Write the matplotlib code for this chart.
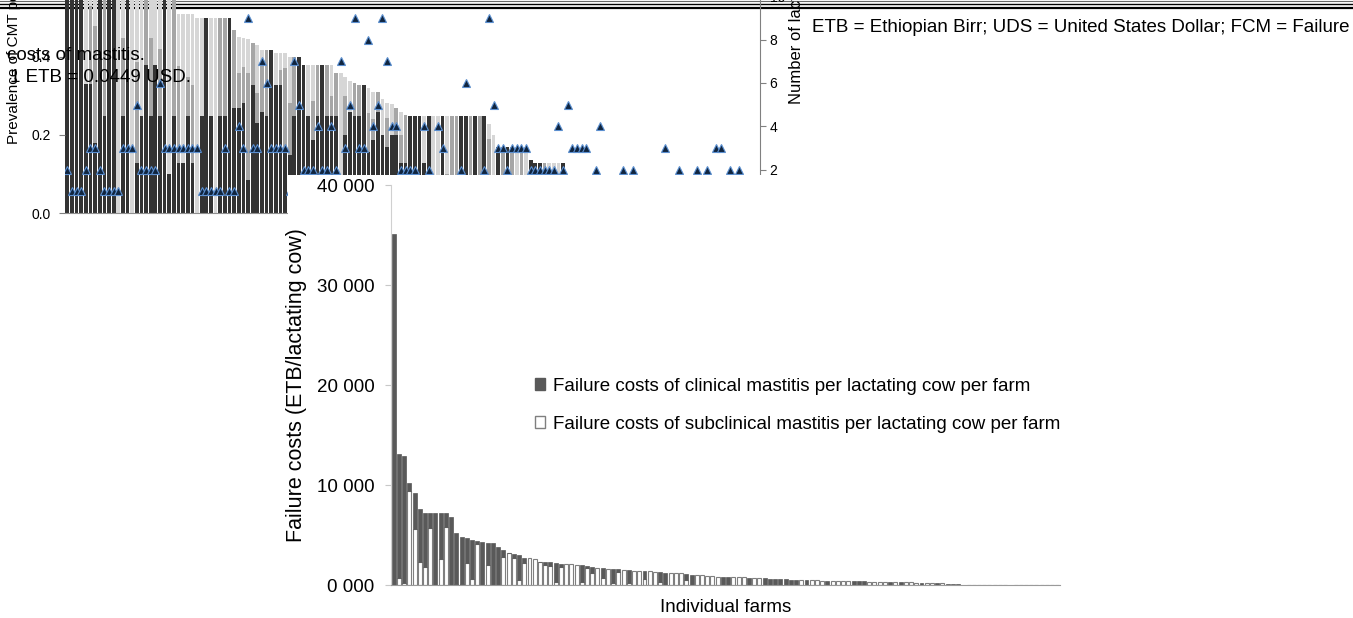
import matplotlib
matplotlib.use('Agg')
import matplotlib.pyplot as plt
from matplotlib.patches import Rectangle, Patch
from matplotlib.lines import Line2D

plt.rcParams['font.family'] = ['Liberation Sans', 'DejaVu Sans']

# --- Data ---

# upper chart: prevalence of CMT per farm, split in three shades (farms 1..109, rest are zero)
prev_dark = [1.0, 1.0, 1.0, .917, .33, .33, .18, .833, .25, .75, .75, 0, .25, .7, 0, .128, .25, .38, .25, .38,
             .25, .583, .1, .25, .128, .128, .25, .128, 0, .25, .5, .25, 0, .25, .25, .5, .268, .268, .281, .085,
             .328, .23, .26, .25, .418, .328, .328, .157, .149, .25, .399, .379, .25, .187, .25, .379, .25, .25, .25, 0,
             .2, .26, .25, .25, .328, .157, .187, .26, .2, .17, .2, .2, .127, .127, .25, .25, .25, .128, .25, 0,
             0, .25, 0, 0, 0, .25, .25, 0, .25, 0, .25, 0, 0, .168, 0, .168, 0, 0, 0, 0,
             .136, .127, .127, 0, 0, 0, 0, .127, 0]
prev_mid = [0, 0, 0, 0, 0, .2, .3, 0, .55, 0, 0, 0, .2, 0, 0, .26, 0, .245, .2, 0,
            .17, 0, 0, .313, .25, 0, .1, .2, 0, 0, 0, 0, 0, .25, .25, 0, .201, .09, .094, .273,
            .107, .077, .128, .168, 0, 0, .039, .215, .132, .149, 0, 0, 0, .1, .129, 0, .129, .05, .108, 0,
            .1, 0, .083, .078, 0, .099, .053, .049, 0, .074, 0, .068, .073, .124, 0, 0, 0, 0, 0, 0,
            0, 0, .1, .25, .25, 0, 0, .25, 0, .25, 0, .19, .01, 0, .168, 0, .168, 0, .168, 0,
            0, 0, 0, .127, 0, 0, 0, 0, .008]
prev_light = [0, 0, 0, 0, .545, .345, .353, 0, 0, 0, 0, .75, .3, 0, .667, .279, .417, 0, .175, .22,
              .163, 0, .463, 0, .132, .382, .16, .182, .5, .25, 0, .25, .5, 0, 0, 0, 0, .092, .075, .089,
              0, .124, .03, 0, 0, .081, .042, .037, .118, 0, 0, 0, .129, .092, 0, 0, 0, .079, 0, .358,
              .048, .079, 0, 0, 0, .064, .069, 0, .092, .037, .079, 0, .06, 0, 0, 0, 0, .122, 0, .25,
              .25, 0, .15, 0, 0, 0, 0, 0, 0, 0, 0, .038, .19, 0, 0, 0, 0, .168, 0, .168,
              0, 0, 0, 0, .127, .127, .127, 0, 0]

# number of lactating cows per farm (150 farms)
cows = [2, 1, 1, 1, 2, 3, 3, 2, 1, 1, 1, 1, 3, 3, 3, 5, 2, 2, 2, 2,
        6, 3, 3, 3, 3, 3, 3, 3, 3, 1, 1, 1, 1, 1, 3, 1, 1, 4, 3, 9,
        3, 3, 7, 6, 3, 3, 3, 3, 1, 7, 5, 2, 2, 2, 4, 2, 2, 4, 2, 7,
        3, 5, 9, 3, 3, 8, 4, 5, 9, 7, 4, 4, 2, 2, 2, 2, 1, 4, 2, 1,
        4, 3, 1, 1, 1, 2, 6, 1, 1, 1, 2, 9, 5, 3, 3, 2, 3, 3, 3, 3,
        2, 2, 2, 2, 2, 2, 4, 2, 5, 3, 3, 3, 3, 1, 2, 4, 1, 1, 1, 1,
        2, 1, 2, 1, 1, 1, 1, 1, 1, 3, 1, 1, 2, 1, 1, 1, 2, 1, 2, 1,
        3, 3, 1, 2, 1, 2, 1, 1, 1, 1]

# main chart: failure costs per lactating cow (ETB), 128 farms
clin_cost = [35100, 12370, 12700, 740, 3600, 5240, 5460, 1560, 7230, 4630, 1460, 6830, 5070, 4680, 2440, 3930,
             330, 4330, 2230, 4230, 3830, 730, 60, 400, 2470, 520, 0, 0, 60, 330, 400, 1900, 300,
             0, 0, 0, 1700, 230, 600, 0, 1000, 0, 1410, 240, 0, 1270, 0, 0, 800, 0, 0, 970, 1230,
             0, 0, 0, 600, 1030, 0, 0, 0, 0, 0, 830, 800, 0, 0, 0, 730, 0, 0, 670, 630, 630, 600,
             570, 530, 500, 0, 500, 0,
             0, 0, 450, 0, 0, 0, 0, 400, 380, 370, 0, 0, 0, 0, 320, 0, 300, 0, 0, 0, 250, 0, 0,
             200, 0, 150, 130, 110, 0, 0, 0, 0, 0, 0, 0, 0, 0, 0, 0, 0, 0, 0, 0, 0, 0, 0, 0]
subclin_cost = [0, 700, 200, 9430, 5570, 2330, 1770, 5670, 0, 2600, 5770, 0, 100, 150, 2230, 570,
                4100, 0, 2000, 0, 0, 2770, 3170, 2670, 500, 2230, 2750, 2570, 2270, 2000, 1930, 330, 1830,
                2100, 2070, 2030, 300, 1670, 1230, 1670, 670, 1640, 230, 1330, 1500, 230, 1430, 1430, 570,
                1370, 1350, 330, 0, 1230, 1170, 1170, 500, 0, 970, 970, 900, 900, 830, 0, 0, 800, 770,
                770, 0, 730, 700, 0, 0, 0, 0, 0, 0, 0, 500, 0, 480,
                470, 450, 0, 430, 430, 420, 400, 0, 0, 0, 350, 350, 330, 330, 0, 300, 0, 280, 270, 250,
                0, 230, 220, 0, 180, 0, 0, 0, 0, 20, 20, 20, 20, 20, 20, 20, 20, 0,
                20, 20, 20, 20, 20, 20, 20, 20, 20]

prev_ticks = [0.0, 0.2, 0.4, 0.6, 0.8, 1.0]
prev_tick_labels = ['0.0', '0.2', '0.4', '0.6', '0.8', '1.0']
cow_ticks = [0, 2, 4, 6, 8, 10, 12, 14, 16, 18]
cost_ticks = [0, 10000, 20000, 30000, 40000]
cost_tick_labels = ['0 000', '10 000', '20 000', '30 000', '40 000']

legend_labels = ['Failure costs of clinical mastitis per lactating cow per farm',
                 'Failure costs of subclinical mastitis per lactating cow per farm']

# --- Figure (pixel helpers) ---
W, H = 1353, 618


def fx(x):
    return x / W


def fy(y):
    return 1 - y / H


fig = plt.figure(figsize=(W / 100, H / 100), dpi=100)

# table rules at the top, drawn behind the upper chart
for yy, lw, col in [(1.0, 0.8, '#666666'), (3.7, 1.0, 'black'), (7.6, 1.6, 'black')]:
    fig.add_artist(Line2D([0, 1], [fy(yy), fy(yy)], transform=fig.transFigure,
                          color=col, linewidth=lw, zorder=-1))

# --- Upper chart (cut off, behind) ---
ax_up = fig.add_axes([fx(65), fy(213), (760 - 65) / W, 390 / H])
ax_up.set_zorder(0)
ax_up.patch.set_visible(False)
farms_up = list(range(1, len(cows) + 1))
farms_prev = farms_up[:len(prev_dark)]
bottom_mid = [d for d in prev_dark]
bottom_light = [d + m for d, m in zip(prev_dark, prev_mid)]
ax_up.bar(farms_prev, prev_dark, width=0.8, color='#333333', edgecolor='none')
ax_up.bar(farms_prev, prev_mid, bottom=bottom_mid, width=0.8, color='#a6a6a6', edgecolor='none')
ax_up.bar(farms_prev, prev_light, bottom=bottom_light, width=0.8, color='#d6d6d6', edgecolor='none')
ax_up.set_xlim(0.5, len(cows) + 0.5)
ax_up.set_ylim(0, 1.0)
ax_up.set_yticks(prev_ticks)
ax_up.set_yticklabels(prev_tick_labels, fontsize=10)
ax_up.set_xticks([])
ax_up.tick_params(axis='y', length=4, color='#808080', pad=6)
for s in ['top', 'right', 'left']:
    ax_up.spines[s].set_visible(False)
ax_up.spines['bottom'].set_color('#909090')

ax_cow = ax_up.twinx()
ax_cow.set_zorder(1)
ax_cow.plot(farms_up, cows, linestyle='none', marker='^', markersize=5.5,
            markerfacecolor='#10253f', markeredgecolor='#5b8fd0', markeredgewidth=0.8)
ax_cow.set_ylim(0, 18)
ax_cow.set_yticks(cow_ticks)
ax_cow.set_yticklabels([str(t) for t in cow_ticks], fontsize=10)
ax_cow.tick_params(axis='y', length=4, color='#808080', pad=3)
for s in ['top', 'left', 'bottom']:
    ax_cow.spines[s].set_visible(False)
ax_cow.spines['right'].set_color('#808080')

fig.text(fx(14), fy(144), 'Prevalence of CMT positive quarters', rotation=90,
         ha='center', va='bottom', fontsize=11, zorder=1)
fig.text(fx(796), fy(104), 'Number of lactating cows', rotation=90,
         ha='center', va='bottom', fontsize=12, zorder=1)

# white panel of the pasted lower chart
fig.patches.append(Rectangle((fx(288), 0), 1 - fx(288), fy(175), transform=fig.transFigure,
                             facecolor='white', edgecolor='none', zorder=2))

# --- Main chart ---
ax = fig.add_axes([fx(391), fy(585), 669 / W, 400 / H])
ax.set_zorder(3)
ax.patch.set_visible(False)
farms = list(range(1, len(clin_cost) + 1))
sub_edges = ['#7f7f7f' if v > 0 else 'none' for v in subclin_cost]
clin_edges = ['#595959' if v > 0 else 'none' for v in clin_cost]
ax.bar(farms, subclin_cost, width=0.76, color='white', edgecolor=sub_edges, linewidth=0.8)
ax.bar(farms, clin_cost, bottom=subclin_cost, width=0.76, color='#595959', edgecolor=clin_edges,
       linewidth=0.5)
ax.set_xlim(0.5, len(clin_cost) + 0.5)
ax.set_ylim(0, 40000)
ax.set_yticks(cost_ticks)
ax.set_yticklabels(cost_tick_labels, fontsize=13.5)
ax.set_xticks([])
ax.tick_params(axis='y', length=4, color='#c8c8c8', pad=8)
ax.spines['top'].set_visible(False)
ax.spines['right'].set_visible(False)
ax.spines['left'].set_color('#d0d0d0')
ax.spines['bottom'].set_color('#9a9a9a')
ax.set_ylabel('Failure costs (ETB/lactating cow)', fontsize=15.5)
ax.yaxis.set_label_coords(-0.125, 0.5)
ax.set_xlabel('Individual farms', fontsize=13.5)
ax.xaxis.set_label_coords(0.5, -0.035)

handles = [Patch(facecolor='#595959', edgecolor='#595959'),
           Patch(facecolor='white', edgecolor='#7f7f7f')]
ax.legend(handles, legend_labels, loc='center left', bbox_to_anchor=(0.19, 0.45),
          frameon=False, fontsize=13.5, handlelength=0.55, handleheight=0.55,
          handletextpad=0.4, labelspacing=1.12)

# --- Overlaid caption text ---
fig.text(fx(7), fy(55), 'costs of mastitis.', ha='left', va='center', fontsize=13.5, zorder=5)
fig.text(fx(10), fy(77), '1 ETB = 0.0449 USD.', ha='left', va='center', fontsize=13.5, zorder=5)
fig.text(fx(812), fy(27), 'ETB = Ethiopian Birr; UDS = United States Dollar; FCM = Failure',
         ha='left', va='center', fontsize=13.5, zorder=5)

fig.savefig('out.png', dpi=100)
